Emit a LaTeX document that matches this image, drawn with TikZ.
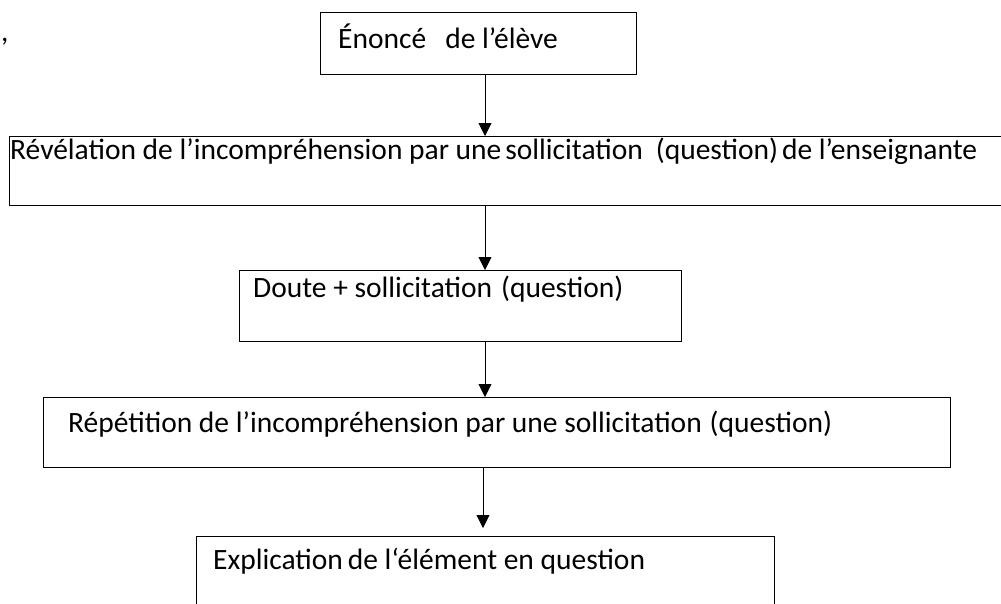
\documentclass[tikz,border=0pt]{standalone}
\usepackage{fontspec}
\setmainfont{Carlito}
\usetikzlibrary{arrows.meta}
\begin{document}
\begin{tikzpicture}[x=1pt,y=-1pt,
  box/.style={draw=black, line width=0.9pt, rectangle, inner sep=0pt, anchor=north west},
  txt/.style={anchor=base west, inner sep=0pt, font=\fontsize{29.5}{34}\selectfont},
  arr/.style={draw=black, line width=0.9pt, -{Triangle[width=13pt,length=13pt]}}]
\useasboundingbox (0,0) rectangle (1001,603);
\clip (0,0) rectangle (1001,603);
% boxes
\node[box, minimum width=316pt, minimum height=62pt] (b1) at (320,12) {};
\node[box, minimum width=1010pt, minimum height=69pt] (b2) at (9,136) {};
\node[box, minimum width=442pt, minimum height=71pt] (b3) at (239,270) {};
\node[box, minimum width=907pt, minimum height=70pt] (b4) at (43,397) {};
\node[box, minimum width=578pt, minimum height=100pt] (b5) at (196,536) {};
% texts
\node[txt] (cm) at (1,41) {,};
\node[txt] (t1) at (338,48) {Énoncé\hspace{19pt}de l’élève};
\node[txt] (t2) at (10,159) {Révélation de l’incompréhension par une\hspace{4pt}sollicitation\hspace{13pt}(question)\hspace{4pt}de l’enseignante};
\node[txt] (t3) at (253,297) {Doute + sollicitation\hspace{9pt}(question)};
\node[txt] (t4) at (68,432) {Répétition de l’incompréhension par une sollicitation\hspace{8pt}(question)};
\node[txt] (t5) at (213,569) {Explication\hspace{5pt}de l‘élément en question};
% arrows
\coordinate (ax) at (485,0);
\draw[arr] (b1.south -| ax) -- (b2.north -| ax);
\draw[arr] (b2.south -| ax) -- (b3.north -| ax);
\draw[arr] (b3.south -| ax) -- (b4.north -| ax);
\coordinate (ax4) at (483,0);
\coordinate (tip5) at (483,528);
\draw[arr] (b4.south -| ax4) -- (tip5);
\end{tikzpicture}
\end{document}
